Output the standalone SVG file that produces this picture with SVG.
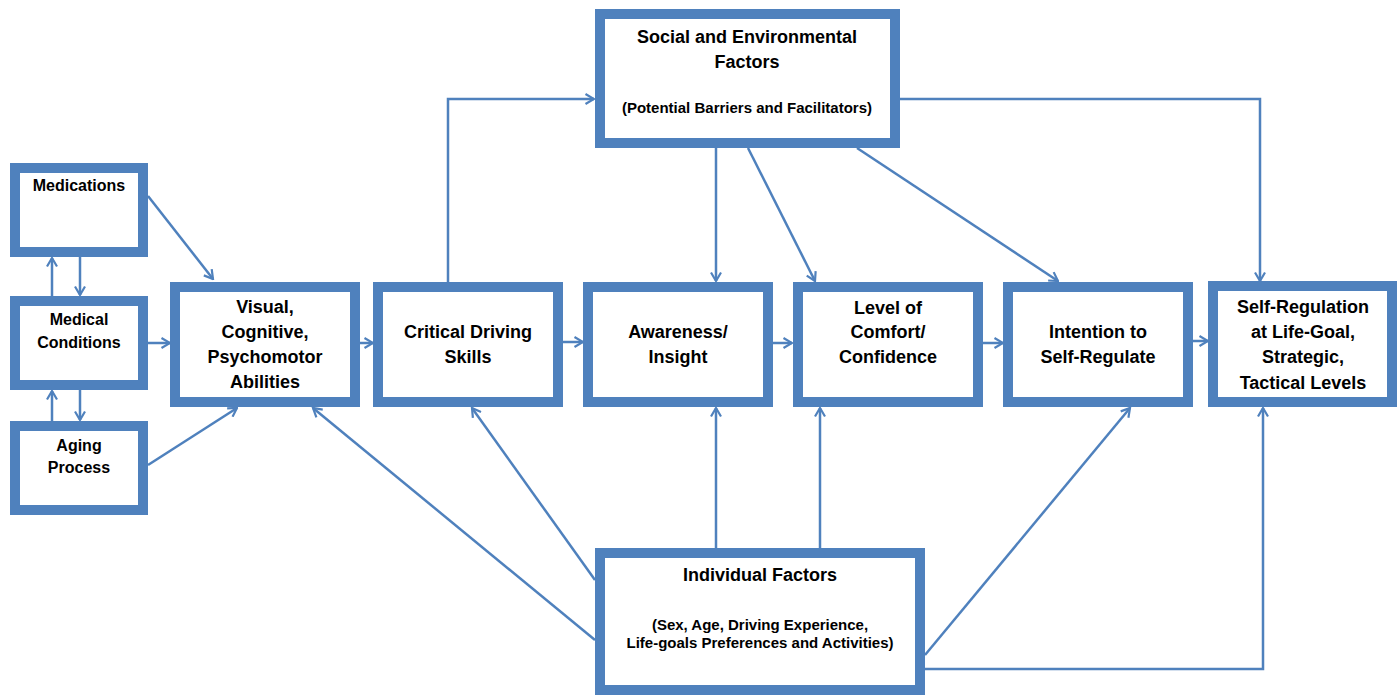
<svg xmlns="http://www.w3.org/2000/svg" width="1400" height="696" viewBox="0 0 1400 696">
<style>
.box{fill:#fff;stroke:#4F81BD;stroke-width:10}
.c{fill:none;stroke:#4F81BD;stroke-width:2.5;marker-end:url(#ah)}
text{font-family:"Liberation Sans",Arial,sans-serif;font-weight:bold;fill:#000;text-anchor:middle}
.t18{font-size:18px}
.t16{font-size:16px}
.t13{font-size:15px}
</style>
<defs>
<marker id="ah" viewBox="0 0 12 12" markerWidth="12" markerHeight="12" refX="10.5" refY="6" orient="auto" markerUnits="userSpaceOnUse">
<path d="M2,1 L10.5,6 L2,11" fill="none" stroke="#4F81BD" stroke-width="2.2"/>
</marker>
</defs>
<rect width="1400" height="696" fill="#fff"/>
<g id="connectors">
<line class="c" x1="148" y1="196" x2="213" y2="279"/>
<line class="c" x1="52" y1="296" x2="52" y2="258"/>
<line class="c" x1="80" y1="257" x2="80" y2="295"/>
<line class="c" x1="52" y1="421" x2="52" y2="391"/>
<line class="c" x1="80" y1="390" x2="80" y2="420"/>
<line class="c" x1="148" y1="343" x2="170" y2="343"/>
<line class="c" x1="148" y1="465" x2="237" y2="408"/>
<line class="c" x1="360" y1="343" x2="373" y2="343"/>
<line class="c" x1="563" y1="342" x2="583" y2="342"/>
<line class="c" x1="773" y1="343" x2="792" y2="343"/>
<line class="c" x1="983" y1="343" x2="1003" y2="343"/>
<line class="c" x1="1193" y1="341" x2="1208" y2="341"/>
<polyline class="c" points="448,282 448,99 594,99"/>
<polyline class="c" points="900,99 1260,99 1260,281"/>
<line class="c" x1="716" y1="148" x2="716" y2="281"/>
<line class="c" x1="748" y1="148" x2="815" y2="281"/>
<line class="c" x1="857" y1="148" x2="1058" y2="281"/>
<line class="c" x1="716" y1="548" x2="716" y2="408"/>
<line class="c" x1="820" y1="548" x2="820" y2="408"/>
<line class="c" x1="595" y1="580" x2="472" y2="408"/>
<line class="c" x1="595" y1="640" x2="313" y2="408"/>
<line class="c" x1="925" y1="655" x2="1130" y2="408"/>
<polyline class="c" points="925,669 1263,669 1263,408"/>
</g>
<g id="medications">
<rect class="box" x="15" y="168" width="128" height="84"/>
<text class="t16" x="79" y="191">Medications</text>
</g>
<g id="medical-conditions">
<rect class="box" x="15" y="301" width="128" height="84"/>
<text class="t16" x="79" y="325">Medical</text>
<text class="t16" x="79" y="348">Conditions</text>
</g>
<g id="aging-process">
<rect class="box" x="15" y="426" width="128" height="84"/>
<text class="t16" x="79" y="451">Aging</text>
<text class="t16" x="79" y="473">Process</text>
</g>
<g id="abilities">
<rect class="box" x="175" y="287" width="180" height="115"/>
<text class="t18" x="265" y="313">Visual,</text>
<text class="t18" x="265" y="338">Cognitive,</text>
<text class="t18" x="265" y="363">Psychomotor</text>
<text class="t18" x="265" y="388">Abilities</text>
</g>
<g id="critical-driving">
<rect class="box" x="378" y="287" width="180" height="115"/>
<text class="t18" x="468" y="338">Critical Driving</text>
<text class="t18" x="468" y="363">Skills</text>
</g>
<g id="awareness">
<rect class="box" x="588" y="287" width="180" height="115"/>
<text class="t18" x="678" y="338">Awareness/</text>
<text class="t18" x="678" y="363">Insight</text>
</g>
<g id="comfort">
<rect class="box" x="798" y="287" width="180" height="115"/>
<text class="t18" x="888" y="314">Level of</text>
<text class="t18" x="888" y="338">Comfort/</text>
<text class="t18" x="888" y="363">Confidence</text>
</g>
<g id="intention">
<rect class="box" x="1008" y="287" width="180" height="115"/>
<text class="t18" x="1098" y="338">Intention to</text>
<text class="t18" x="1098" y="363">Self-Regulate</text>
</g>
<g id="self-regulation">
<rect class="box" x="1213" y="286" width="179" height="116"/>
<text class="t18" x="1303" y="313">Self-Regulation</text>
<text class="t18" x="1303" y="338">at Life-Goal,</text>
<text class="t18" x="1303" y="363">Strategic,</text>
<text class="t18" x="1303" y="389">Tactical Levels</text>
</g>
<g id="social">
<rect class="box" x="600" y="14" width="295" height="129"/>
<text class="t18" x="747" y="43">Social and Environmental</text>
<text class="t18" x="747" y="68">Factors</text>
<text class="t13" x="747" y="113">(Potential Barriers and Facilitators)</text>
</g>
<g id="individual">
<rect class="box" x="600" y="553" width="320" height="137"/>
<text class="t18" x="760" y="581">Individual Factors</text>
<text class="t13" x="760" y="630">(Sex, Age, Driving Experience,</text>
<text class="t13" x="760" y="648">Life-goals Preferences and Activities)</text>
</g>
</svg>
